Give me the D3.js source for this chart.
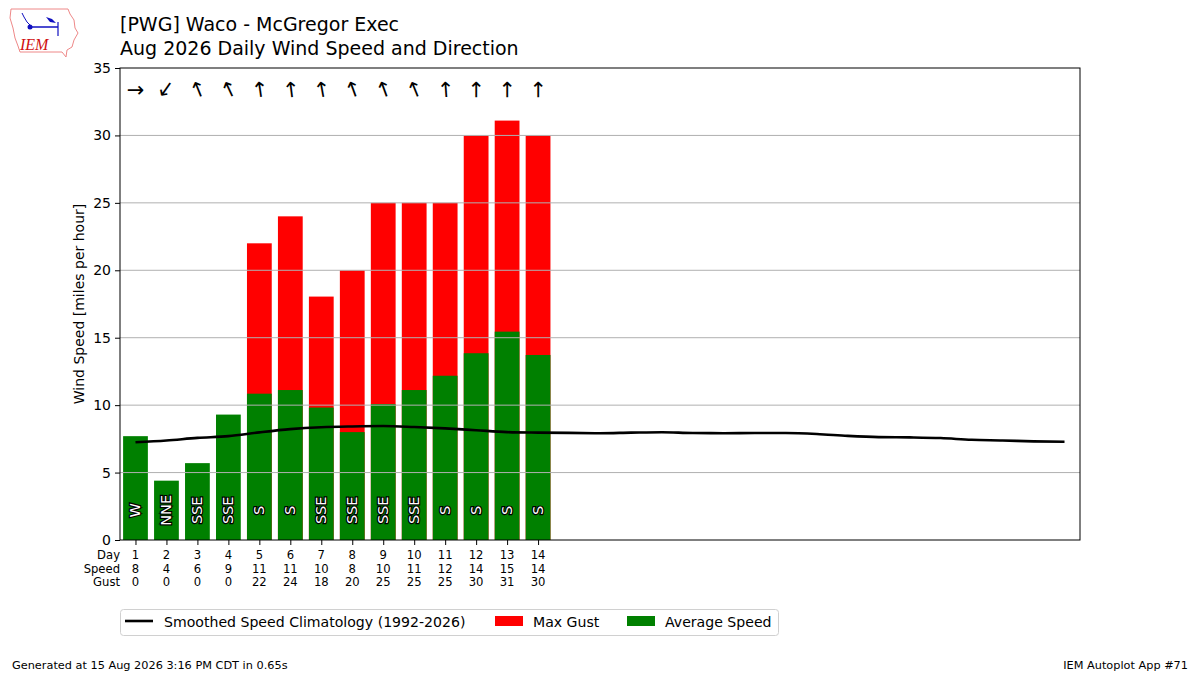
<!DOCTYPE html>
<html>
<head>
<meta charset="utf-8">
<script src="https://cdn.jsdelivr.net/npm/d3@7"></script>
<style>
  body { margin: 0; background: #fff; }
  svg { font-family: "DejaVu Sans", sans-serif; }
</style>
</head>
<body>
<div id="chart"></div>
<script>
// observed days
const days = [1, 2, 3, 4, 5, 6, 7, 8, 9, 10, 11, 12, 13, 14];
const avgSpeed = [7.7, 4.4, 5.7, 9.3, 10.85, 11.12, 9.82, 8.0, 10.08, 11.12, 12.18, 13.85, 15.45, 13.72];
const maxGust = [0, 0, 0, 0, 22, 24, 18.05, 20, 25, 25, 25, 30, 31.1, 30];
const dirDeg = [270, 35, 158, 155, 172, 173, 170, 160, 160, 158, 176, 180, 180, 180];
const dirText = ["W", "NNE", "SSE", "SSE", "S", "S", "SSE", "SSE", "SSE", "SSE", "S", "S", "S", "S"];

// climatology for every day of the month
const climDays = d3.range(1, 32);
const climSpeed = [7.25, 7.38, 7.57, 7.7, 7.98, 8.22, 8.36, 8.42, 8.45, 8.38, 8.28, 8.14, 8.0, 7.96,
  7.94, 7.92, 7.96, 7.99, 7.93, 7.92, 7.93, 7.93, 7.86, 7.72, 7.63, 7.61, 7.56, 7.43, 7.38, 7.31, 7.28];

const yTicks = [0, 5, 10, 15, 20, 25, 30, 35];

const W = 1200, H = 675;
const margin = {top: 68, right: 120, bottom: 135, left: 120};

const svg = d3.select("#chart").append("svg")
    .attr("width", W)
    .attr("height", H);

const x = d3.scaleLinear().domain([0.5, 31.5]).range([margin.left, W - margin.right]);
const y = d3.scaleLinear().domain([0, 35]).range([H - margin.bottom, margin.top]);

// bars: gust first, average on top
svg.append("g").selectAll("rect")
  .data(days)
  .join("rect")
    .attr("x", (d) => x(d - 0.4))
    .attr("width", x(0.8) - x(0))
    .attr("y", (d, i) => y(maxGust[i]))
    .attr("height", (d, i) => y(0) - y(maxGust[i]))
    .attr("fill", "#ff0000");

svg.append("g").selectAll("rect")
  .data(days)
  .join("rect")
    .attr("x", (d) => x(d - 0.4))
    .attr("width", x(0.8) - x(0))
    .attr("y", (d, i) => y(avgSpeed[i]))
    .attr("height", (d, i) => y(0) - y(avgSpeed[i]))
    .attr("fill", "#008000");

// horizontal grid
svg.append("g").selectAll("line")
  .data(yTicks.slice(1, -1))
  .join("line")
    .attr("x1", x(0.5)).attr("x2", x(31.5))
    .attr("y1", (d) => y(d)).attr("y2", (d) => y(d))
    .attr("stroke", "#b0b0b0").attr("stroke-width", 1);

// climatology line
const line = d3.line()
  .x((d) => x(d))
  .y((d, i) => y(climSpeed[i]))
  .curve(d3.curveMonotoneX);
svg.append("path")
  .datum(climDays)
  .attr("d", line)
  .attr("fill", "none")
  .attr("stroke", "#000")
  .attr("stroke-width", 2.6);

// direction text inside bars
svg.append("g").selectAll("text")
  .data(days)
  .join("text")
    .attr("transform", (d) => `translate(${x(d) + 5},${y(2.2)}) rotate(-90)`)
    .attr("text-anchor", "middle")
    .attr("font-size", 14.5)
    .attr("fill", "#fff")
    .attr("stroke", "#000")
    .attr("stroke-width", 2.4)
    .attr("paint-order", "stroke")
    .text((d, i) => dirText[i]);

// direction arrows
svg.append("g").selectAll("text")
  .data(days)
  .join("text")
    .attr("transform", (d, i) => `translate(${x(d)},${y(33.4)}) rotate(${dirDeg[i] + 90})`)
    .attr("text-anchor", "middle")
    .attr("dy", "0.35em")
    .attr("font-size", 21)
    .attr("fill", "#000")
    .text("\u2192");

// frame
svg.append("rect")
  .attr("x", x(0.5)).attr("y", y(35))
  .attr("width", x(31.5) - x(0.5)).attr("height", y(0) - y(35))
  .attr("fill", "none").attr("stroke", "#000").attr("stroke-width", 1);

// y axis
const yAxis = svg.append("g")
  .attr("transform", `translate(${x(0.5)},0)`)
  .call(d3.axisLeft(y).tickValues(yTicks).tickSize(5).tickPadding(4));
yAxis.select(".domain").remove();
yAxis.selectAll("text").attr("font-size", 14).attr("font-family", "DejaVu Sans");

svg.append("text")
  .attr("transform", `translate(84,${(y(0) + y(35)) / 2}) rotate(-90)`)
  .attr("text-anchor", "middle")
  .attr("font-size", 14)
  .text("Wind Speed [miles per hour]");

// x axis ticks for observed days
const xAxis = svg.append("g")
  .attr("transform", `translate(0,${y(0)})`)
  .call(d3.axisBottom(x).tickValues(days).tickSize(5).tickFormat(""));
xAxis.select(".domain").remove();

const fmt = d3.format(".0f");
const rows = [
  {name: "Day", vals: days.map((d) => d)},
  {name: "Speed", vals: avgSpeed.map(fmt)},
  {name: "Gust", vals: maxGust.map(fmt)}
];
rows.forEach((r, k) => {
  const yy = y(0) + 19 + k * 13.5;
  svg.append("text")
    .attr("x", x(0.5)).attr("y", yy)
    .attr("text-anchor", "end")
    .attr("font-size", 11.6)
    .text(r.name);
  svg.append("g").selectAll("text")
    .data(days)
    .join("text")
      .attr("x", (d) => x(d)).attr("y", yy)
      .attr("text-anchor", "middle")
      .attr("font-size", 11.6)
      .text((d, i) => r.vals[i]);
});

// titles
svg.append("text").attr("x", 120).attr("y", 31).attr("font-size", 19)
  .text("[PWG] Waco - McGregor Exec");
svg.append("text").attr("x", 120).attr("y", 55).attr("font-size", 19)
  .text("Aug 2026 Daily Wind Speed and Direction");

// legend
const leg = svg.append("g");
leg.append("rect")
  .attr("x", 120.5).attr("y", 609.5).attr("width", 658).attr("height", 26)
  .attr("rx", 3).attr("fill", "#fff").attr("stroke", "#d0d0d0");
leg.append("line")
  .attr("x1", 125).attr("x2", 153).attr("y1", 621).attr("y2", 621)
  .attr("stroke", "#000").attr("stroke-width", 2.6);
leg.append("text").attr("x", 164).attr("y", 626.5).attr("font-size", 14.1)
  .text("Smoothed Speed Climatology (1992-2026)");
leg.append("rect").attr("x", 495).attr("y", 616).attr("width", 28).attr("height", 10).attr("fill", "#ff0000");
leg.append("text").attr("x", 533).attr("y", 626.5).attr("font-size", 14.1).text("Max Gust");
leg.append("rect").attr("x", 627).attr("y", 616).attr("width", 28).attr("height", 10).attr("fill", "#008000");
leg.append("text").attr("x", 665).attr("y", 626.5).attr("font-size", 14.1).text("Average Speed");

// footer
svg.append("text").attr("x", 12).attr("y", 669).attr("font-size", 11.3)
  .text("Generated at 15 Aug 2026 3:16 PM CDT in 0.65s");
svg.append("text").attr("x", 1188).attr("y", 669).attr("font-size", 11.3)
  .attr("text-anchor", "end").text("IEM Autoplot App #71");

// IEM logo (simplified)
const logo = svg.append("g");
logo.append("path")
  .attr("d", "M11,9 L68,9 L70,14 L74,20 L75,28 L78,33 L74,40 L72,47 L67,50 L66,57 L62,52 L20,52 L18,46 L15,38 L13,28 L10,18 Z")
  .attr("fill", "none").attr("stroke", "#e88").attr("stroke-width", 1);
logo.append("line").attr("x1", 30).attr("x2", 58).attr("y1", 27).attr("y2", 27)
  .attr("stroke", "#1010c0").attr("stroke-width", 1.5);
logo.append("circle").attr("cx", 30).attr("cy", 27).attr("r", 2.5).attr("fill", "#1010c0");
logo.append("line").attr("x1", 58).attr("x2", 58).attr("y1", 22).attr("y2", 36)
  .attr("stroke", "#1010c0").attr("stroke-width", 1.2);
logo.append("path").attr("d", "M46,17 L52,19 L56,23 L50,22 Z").attr("fill", "#1010c0");
logo.append("path").attr("d", "M22,13 L24,17 L27,22 L30,25").attr("fill", "none")
  .attr("stroke", "#1010c0").attr("stroke-width", 1);
logo.append("text").attr("x", 20).attr("y", 50).attr("font-size", 16)
  .attr("font-family", "Liberation Serif").attr("font-style", "italic")
  .attr("fill", "#d01010").text("IEM");
</script>
</body>
</html>
